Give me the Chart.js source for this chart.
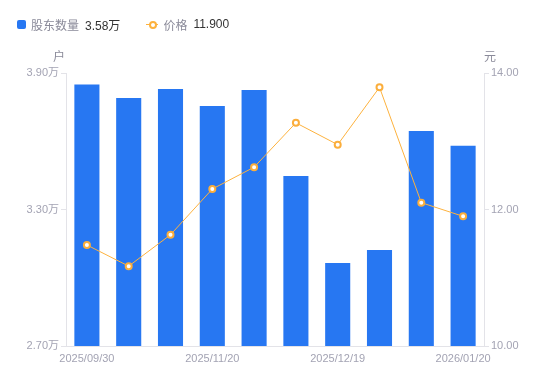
<!DOCTYPE html>
<html>
<head>
<meta charset="utf-8">
<script src="https://cdn.jsdelivr.net/npm/chart.js@4/dist/chart.umd.min.js"></script>
<style>
  html, body { margin: 0; padding: 0; background: #fff; }
  #wrap { position: relative; width: 550px; height: 381px; }
  #legend {
    position: absolute; left: 17px; top: 15px; height: 18px;
    font-family: "Liberation Sans", "Noto Sans CJK SC", sans-serif; font-size: 12px;
    display: flex; align-items: center; white-space: nowrap;
  }
  .sq { width: 9px; height: 9px; background: #2777F2; border-radius: 2px; display: inline-block; margin-right: 5px; }
  .ln { position: relative; width: 12px; height: 9px; display: inline-block; margin-right: 5px; }
  .ln:before { content: ""; position: absolute; left: 0; right: 0; top: 4px; height: 1px; background: #FDB23E; }
  .ln:after { content: ""; position: absolute; left: 3px; top: 1px; width: 4px; height: 4px; border: 2px solid #FDB23E; border-radius: 50%; background: #fff; }
  .nm { color: #8a8a99; margin-right: 6px; }
  .vl { color: #333; }
  canvas { position: absolute; left: 0; top: 0; }
</style>
</head>
<body>
<div id="wrap">
  <canvas id="chart" width="550" height="381"></canvas>
  <div id="legend">
    <span class="sq"></span><span class="nm">股东数量</span><span class="vl" style="margin-right:26px">3.58万</span>
    <span class="ln"></span><span class="nm">价格</span><span class="vl">11.900</span>
  </div>
</div>
<script>
// 日期
const dates = ['2025/09/30', '2025/10/20', '2025/10/31', '2025/11/20', '2025/11/30',
               '2025/12/10', '2025/12/19', '2025/12/31', '2026/01/10', '2026/01/20'];
// 股东数量（万户）
const holders = [3.85, 3.79, 3.83, 3.755, 3.825, 3.447, 3.065, 3.122, 3.645, 3.58];
// 价格（元）
const prices = [11.48, 11.17, 11.63, 12.30, 12.62, 13.27, 12.95, 13.79, 12.10, 11.90];

const leftTicks = [2.7, 3.3, 3.9];
const rightTicks = [10, 12, 14];

const FONT = '"Liberation Sans", "Noto Sans CJK SC", sans-serif';
const tickColor = '#a3a3b3';
const axisColor = '#e3e3e8';

// 坐标轴单位
const unitPlugin = {
    id: 'units',
    afterDraw(chart) {
        const ctx = chart.ctx;
        const area = chart.chartArea;
        ctx.save();
        ctx.font = '12px ' + FONT;
        ctx.fillStyle = '#8a8a99';
        ctx.textBaseline = 'middle';
        ctx.textAlign = 'center';
        ctx.fillText('户', area.left - 7, area.top - 15);
        ctx.fillText('元', area.right + 6, area.top - 15);
        ctx.restore();
    }
};

const ctx = document.getElementById('chart').getContext('2d');
new Chart(ctx, {
    data: {
        labels: dates,
        datasets: [
            {
                type: 'line',
                label: '价格',
                data: prices,
                yAxisID: 'y1',
                borderColor: '#FDB23E',
                borderWidth: 1,
                pointRadius: 3,
                pointBorderWidth: 2,
                pointBackgroundColor: '#fff',
                pointBorderColor: '#FBAE3C',
                tension: 0,
                order: 0
            },
            {
                type: 'bar',
                label: '股东数量',
                data: holders,
                yAxisID: 'y',
                backgroundColor: '#2777F2',
                barPercentage: 0.6,
                categoryPercentage: 1,
                order: 1
            }
        ]
    },
    options: {
        responsive: false,
        animation: false,
        layout: { padding: { top: 73, left: 0, right: 0, bottom: 0 } },
        plugins: {
            legend: { display: false },
            tooltip: { enabled: false }
        },
        scales: {
            x: {
                offset: true,
                afterFit(s) { s.height = 35; },
                grid: { display: false, drawTicks: false },
                border: { color: axisColor },
                ticks: {
                    autoSkip: false,
                    maxRotation: 0,
                    color: tickColor,
                    font: { family: FONT, size: 11 },
                    padding: 6,
                    callback(v, i) { return i % 3 === 0 ? dates[i] : ''; }
                }
            },
            y: {
                position: 'left',
                min: 2.7, max: 3.9,
                afterFit(s) { s.width = 66; },
                afterBuildTicks(s) { s.ticks = leftTicks.map(v => ({ value: v })); },
                grid: { drawOnChartArea: false, tickLength: 5, color: axisColor },
                border: { color: axisColor },
                ticks: {
                    color: tickColor,
                    font: { family: FONT, size: 11 },
                    padding: 2,
                    callback(v) { return v.toFixed(2) + '万'; }
                }
            },
            y1: {
                position: 'right',
                min: 10, max: 14,
                afterFit(s) { s.width = 66; },
                afterBuildTicks(s) { s.ticks = rightTicks.map(v => ({ value: v })); },
                grid: { drawOnChartArea: false, tickLength: 5, color: axisColor },
                border: { color: axisColor },
                ticks: {
                    color: tickColor,
                    font: { family: FONT, size: 11 },
                    padding: 2,
                    callback(v) { return v.toFixed(2); }
                }
            }
        }
    },
    plugins: [unitPlugin]
});
</script>
</body>
</html>
